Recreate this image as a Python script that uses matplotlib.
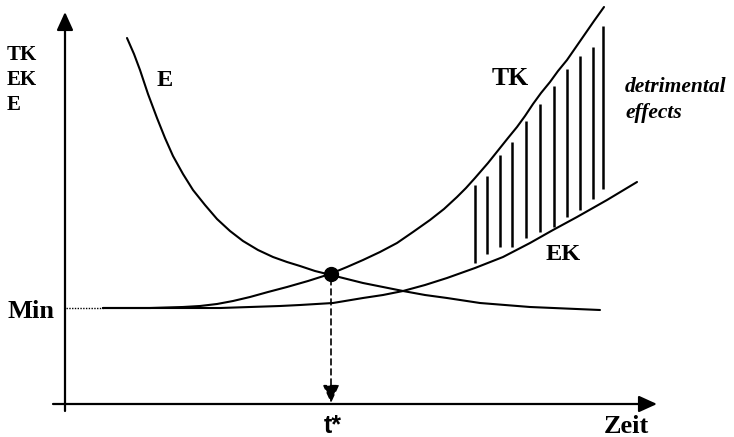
import matplotlib.pyplot as plt

# values (x = time, y = cost, picture units, y grows downward)
e_t = [127, 134, 140, 148, 157, 165, 173, 183, 193, 205, 217, 230, 243, 258, 273, 287, 300, 315, 331, 347, 363, 383, 403, 425, 447, 480, 530, 600]
e_v = [38, 54, 70, 94, 118, 138, 156, 174, 190, 205, 219, 231, 241, 250, 257, 262, 266, 271, 275, 279, 283, 287, 291, 295, 298, 303, 307, 310]

tk_t = [103, 150, 183, 200, 217, 233, 250, 268, 287, 308, 330, 347, 363, 380, 397, 413, 430, 444, 457, 466, 475, 488, 500, 508, 517, 525, 533, 541, 550, 558, 567, 576, 585, 594, 604]
tk_v = [308, 308, 307, 306, 304, 301, 297, 292, 287, 281, 274, 267, 260, 252, 243, 232, 220, 209, 197, 188, 178, 163, 148, 138, 127, 116, 104, 93, 82, 71, 60, 47, 34, 21, 7]

ek_t = [103, 150, 183, 220, 250, 280, 300, 333, 363, 383, 403, 425, 447, 475, 503, 530, 553, 577, 607, 637]
ek_v = [308, 308, 308, 308, 307, 306, 305, 303, 298, 295, 291, 285, 278, 268, 257, 243, 230, 217, 200, 182]

hatch_t = [475, 487, 500, 512, 526, 540, 554, 567, 580, 593, 603]
hatch_top = [185, 176, 155, 142, 121, 104, 86, 69, 56, 47, 26]
hatch_bot = [263, 254, 247, 247, 238, 232, 227, 217, 210, 199, 189]

t_star = 331
dot_v = 274
e_min = 308
y_labels = ["TK", "EK", "E"]

fig = plt.figure(figsize=(7.34, 4.37), dpi=100)
ax = fig.add_axes([0, 0, 1, 1])
ax.set_xlim(0, 734)
ax.set_ylim(437, 0)
ax.axis("off")

serif = "Liberation Serif"
lw = 1.5
head = "-|>,head_length=1.1,head_width=0.5"

# axes with arrows
ax.annotate("", xy=(657, 404), xytext=(53, 404),
            arrowprops=dict(arrowstyle=head, lw=1.6, color="black", shrinkA=0, shrinkB=0))
ax.annotate("", xy=(65, 12), xytext=(65, 411),
            arrowprops=dict(arrowstyle=head, lw=1.6, color="black", shrinkA=0, shrinkB=0))

# curves
ax.plot(e_t, e_v, color="black", lw=lw, solid_capstyle="round", solid_joinstyle="round")
ax.plot(tk_t, tk_v, color="black", lw=lw, solid_capstyle="round", solid_joinstyle="round")
ax.plot(ek_t, ek_v, color="black", lw=lw, solid_capstyle="round", solid_joinstyle="round")

# detrimental effects hatching
ax.vlines(hatch_t, hatch_top, hatch_bot, color="black", lw=1.8)

# minimum point and dashed drop to t*
ax.plot([t_star], [dot_v], "o", color="black", ms=10)
ax.annotate("", xy=(t_star, 403), xytext=(t_star, dot_v + 5),
            arrowprops=dict(arrowstyle=head, lw=1.2, color="black",
                            linestyle=(0, (3.5, 2.5)), shrinkA=0, shrinkB=0))
ax.plot([66, 103], [e_min, e_min], color="black", lw=1.0, ls=(0, (1, 1)))

# labels
for i, s in enumerate(y_labels):
    ax.text(7, 60 + 25 * i, s, fontsize=15, fontweight="bold", family=serif, va="baseline", ha="left")
ax.text(7, 318, "Min", fontsize=19, fontweight="bold", family=serif, va="baseline", ha="left")
ax.text(157, 86, "E", fontsize=17.5, fontweight="bold", family=serif, va="baseline", ha="left")
ax.text(492, 85, "TK", fontsize=18.5, fontweight="bold", family=serif, va="baseline", ha="left")
ax.text(546, 260, "EK", fontsize=17.5, fontweight="bold", family=serif, va="baseline", ha="left")
ax.text(625, 92, "detrimental", fontsize=15.5, fontweight="bold", style="italic", family=serif,
        va="baseline", ha="left")
ax.text(625, 118, "effects", fontsize=15.5, fontweight="bold", style="italic", family=serif,
        va="baseline", ha="left")
ax.text(t_star + 2, 433, "t*", fontsize=18, fontweight="bold", family="Liberation Sans", va="baseline", ha="center")
ax.text(626, 433, "Zeit", fontsize=19, fontweight="bold", family=serif, va="baseline", ha="center")

fig.savefig("out.png", dpi=100)
